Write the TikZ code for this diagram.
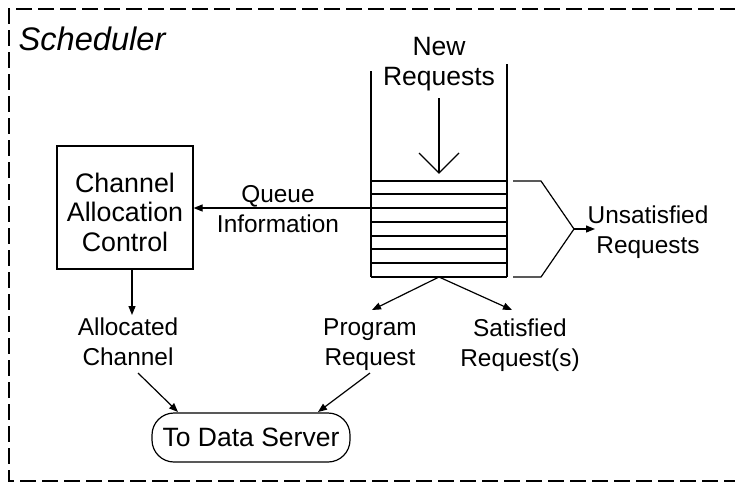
\documentclass[tikz,border=0pt]{standalone}
\usepackage{fontspec}
\setmainfont{Liberation Sans}
\usetikzlibrary{arrows.meta}
\begin{document}
\begin{tikzpicture}[x=1pt,y=-1pt,line width=1.2pt,
  lbl/.style={align=center,inner sep=0pt,font=\fontsize{24.4}{30}\selectfont},
  arr/.style={-{Triangle[length=9pt,width=7pt]}},
  border/.style={dash pattern=on 16pt off 6pt,line width=1.3pt}]
\useasboundingbox (0,0) rectangle (735,483);
\draw[border] (736,9) -- (9,9) -- (9,481) -- (736,481);
\node[anchor=base west,inner sep=0pt,font=\fontsize{32.6}{38}\selectfont\itshape] (sched) at (18,50) {Scheduler};
% nodes
\node[align=center,inner sep=0pt,font=\fontsize{26.5}{29.5}\selectfont] (newreq) at (439,64) {New\\Requests};
\node[draw,minimum width=136pt,minimum height=123pt,inner sep=0pt] (cac) at (125,207.5) {};
\node[align=center,inner sep=0pt,font=\fontsize{26.8}{29.5}\selectfont] (cactext) at (125,212) {Channel\\Allocation\\Control};
\node[lbl] (qinfo) at (278,209) {Queue\\Information};
\node[lbl] (unsat) at (648,232) {Unsatisfied\\Requests};
\node[lbl] (alloc) at (128,342) {Allocated\\Channel};
\node[lbl] (prog) at (370,345) {Program\\Request};
\node[lbl] (sat) at (520,345) {Satisfied\\Request(s)};
\node[draw,rounded corners=22pt,minimum width=198pt,minimum height=49pt,inner sep=0pt,
      font=\fontsize{26.5}{30}\selectfont] (ds) at (251,437.5) {To Data Server};
% queue
\foreach \y in {181,194,208,222,236,249,263,277} \draw (371,\y) -- (507,\y);
\draw (371,71) -- (371,277);
\draw (507,64) -- (507,277);
\coordinate (qL) at (371,208);
\coordinate (qB) at (439,277);
\coordinate (inS) at (439,98);
\coordinate (inT) at (439,173);
\draw (inS) -- (inT);
\draw (419,153) -- (inT) -- (459,153);
% brace
\draw (513,181) -- (541,181) -- (574,229) coordinate (bt) -- (541,277) -- (513,277);
\coordinate (ut) at (595,229);
\draw[arr] (bt) -- (ut);
% connectors
\draw[arr] (qL) -- (cac.east |- qL);
\coordinate (cacOut) at (132,269);
\coordinate (allocIn) at (132,315);
\draw[arr] (cacOut) -- (allocIn);
\coordinate (allocOut) at (138,373);
\coordinate (dsInL) at (178,412);
\draw[arr] (allocOut) -- (dsInL);
\coordinate (progOut) at (370,373);
\coordinate (dsInR) at (318,412);
\draw[arr] (progOut) -- (dsInR);
\coordinate (progIn) at (372,310);
\coordinate (satIn) at (512,310);
\draw[arr] (qB) -- (progIn);
\draw[arr] (qB) -- (satIn);
\end{tikzpicture}
\end{document}
